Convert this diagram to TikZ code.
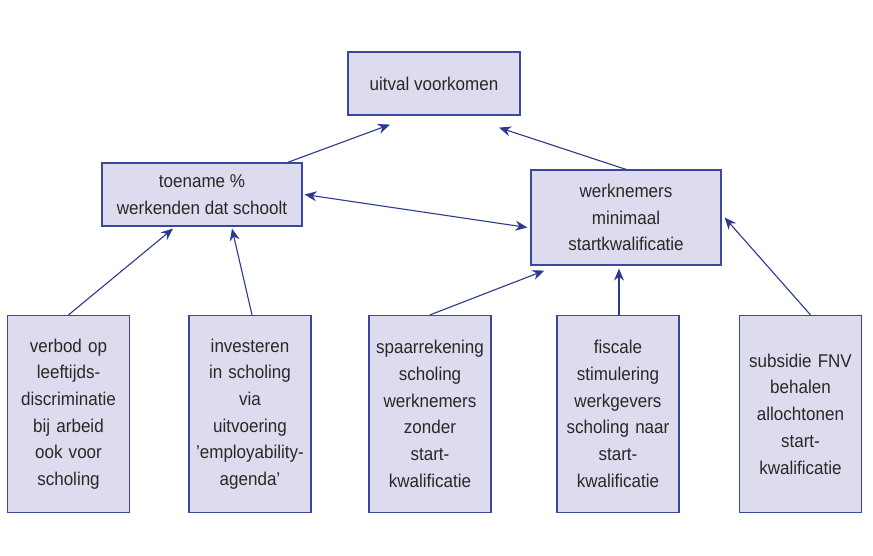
\documentclass[tikz,border=0pt]{standalone}
\usepackage{fontspec}
\setmainfont{Liberation Sans}[FakeStretch=0.92]
\usetikzlibrary{arrows.meta}
\definecolor{vakblauw}{RGB}{220,220,238}
\definecolor{randblauw}{RGB}{60,72,158}
\definecolor{pijlblauw}{RGB}{43,57,144}
\definecolor{tekstgrijs}{RGB}{40,40,40}

\begin{document}
\begin{tikzpicture}[x=1pt,y=-1pt,
    vak/.style={draw=randblauw,fill=vakblauw,line width=1.2pt,align=center,inner sep=1pt,
        text=tekstgrijs,font=\fontsize{18.5}{26.7}\selectfont},
    actie/.style={vak,minimum width=122pt,minimum height=197pt,text width=118pt},
    pijl/.style={draw=pijlblauw,line width=1.1pt,-{Stealth[length=12pt,width=10pt]}}]
    \useasboundingbox (0,0) rectangle (873,556);
    % bovenste rij
    \node[vak,minimum width=172pt,minimum height=63pt] (uitval) at (434,83.5) {uitval voorkomen};
    \node[vak,minimum width=200pt,minimum height=63pt] (toename) at (202,194.5) {toename \%\\werkenden dat schoolt};
    \node[vak,minimum width=190pt,minimum height=95pt] (werk) at (626,217.5) {werknemers\\minimaal\\startkwalificatie};
    % maatregelen
    \foreach \naam/\x/\tekst in {
        verbod/68.5/{verbod op\\leeftijds-\\discriminatie\\bij arbeid\\ook voor\\scholing},
        invest/250/{investeren\\in scholing\\via\\uitvoering\\'employability-\\agenda'},
        spaar/430/{spaarrekening\\scholing\\werknemers\\zonder\\start-\\kwalificatie},
        fiscaal/618/{fiscale\\stimulering\\werkgevers\\scholing naar\\start-\\kwalificatie},
        subsidie/800.5/{subsidie FNV\\behalen\\allochtonen\\start-\\kwalificatie}}{
        \node[actie] (\naam) at (\x,414) {\tekst};
    }
    % pijlen
    \draw[pijl] (verbod.north) -- ([xshift=-29pt,yshift=-2pt]toename.south);
    \draw[pijl] ([xshift=2pt]invest.north) -- ([xshift=30pt,yshift=-2pt]toename.south);
    \draw[pijl] (spaar.north) -- ([xshift=14pt,yshift=-5pt]werk.south west);
    \draw[pijl] ([xshift=1pt]fiscaal.north) -- ([xshift=-7pt,yshift=-3pt]werk.south);
    \draw[pijl] ([xshift=10pt]subsidie.north) -- ([xshift=3pt]werk.east);
    \draw[pijl] ([xshift=-15pt]toename.north east) -- ([xshift=-44pt,yshift=-9pt]uitval.south);
    \draw[pijl] (werk.north) -- ([xshift=65pt,yshift=-12pt]uitval.south);
    \draw[pijl,{Stealth[length=12pt,width=10pt]}-{Stealth[length=12pt,width=10pt]}] ([xshift=2pt]toename.east) -- ([xshift=-3pt,yshift=-10pt]werk.west);
\end{tikzpicture}
\end{document}
